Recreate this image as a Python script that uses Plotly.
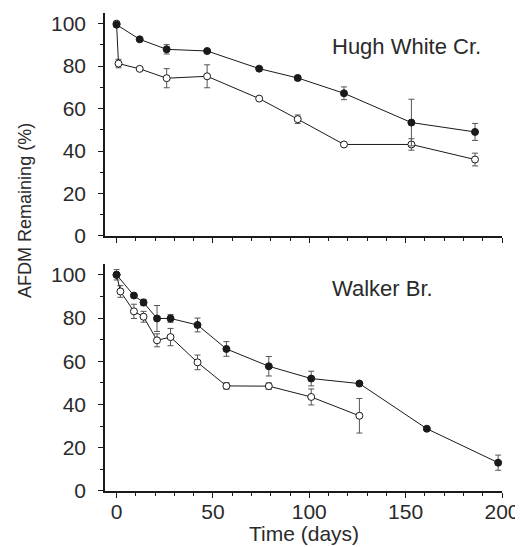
import plotly.graph_objects as go

# Hugh White Cr.
hw_days_filled = [0, 12, 26, 47, 74, 94, 118, 153, 186]
hw_filled = [99.5, 92.6, 87.9, 87.1, 78.8, 74.4, 67.2, 53.4, 49.0]
hw_filled_err = [1.0, 0, 2.2, 0, 0, 1.2, 3.0, 11.0, 4.0]

hw_days_open = [0, 1, 12, 26, 47, 74, 94, 118, 153, 186]
hw_open = [100, 81.2, 78.7, 74.3, 75.2, 64.7, 55.0, 43.1, 43.1, 36.0]
hw_open_err = [0, 2.0, 0, 4.5, 5.4, 0, 2.0, 0, 2.7, 3.0]

# Walker Br.
wb_days_filled = [0, 9, 14, 21, 28, 42, 57, 79, 101, 126, 161, 198]
wb_filled = [100, 90.4, 87.2, 79.8, 79.8, 76.8, 65.7, 57.7, 52.0, 49.7, 28.8, 13.1]
wb_filled_err = [2.4, 0, 1.5, 6.0, 1.8, 3.2, 3.4, 4.5, 3.4, 0, 0, 3.5]

wb_days_open = [0, 2, 9, 14, 21, 28, 42, 57, 79, 101, 126]
wb_open = [100, 92.3, 83.1, 80.6, 69.7, 71.2, 59.5, 48.6, 48.5, 43.5, 34.8]
wb_open_err = [0, 2.7, 3.3, 2.5, 3.0, 4.0, 3.4, 1.5, 1.5, 3.7, 8.0]

panel_labels = ["Hugh White Cr.", "Walker Br."]
y_title = "AFDM Remaining (%)"
x_title = "Time (days)"
x_tickvals = [0, 50, 100, 150, 200]
y_tickvals = [0, 20, 40, 60, 80, 100]

FONT = "Liberation Sans, Arial, sans-serif"
INK = "#1a1a1a"
TXT = "#2a2a2a"
ERRC = "#555555"

fig = go.Figure()


def add_series(x, y, err, filled, xa, ya):
    fig.add_trace(go.Scatter(
        x=x, y=y, mode="lines+markers", xaxis=xa, yaxis=ya,
        line=dict(color=INK, width=1),
        marker=dict(size=7, symbol="circle",
                    color=INK if filled else "white",
                    line=dict(color=INK, width=1)),
        error_y=dict(type="data", array=err, visible=True,
                     color=ERRC, thickness=1, width=3),
        showlegend=False, cliponaxis=False,
    ))


add_series(hw_days_open, hw_open, hw_open_err, False, "x", "y")
add_series(hw_days_filled, hw_filled, hw_filled_err, True, "x", "y")
add_series(wb_days_open, wb_open, wb_open_err, False, "x2", "y2")
add_series(wb_days_filled, wb_filled, wb_filled_err, True, "x2", "y2")

xcommon = dict(range=[-6, 200], showgrid=False, zeroline=False, automargin=False,
               showline=True, linecolor=INK, linewidth=1.5,
               ticks="outside", ticklen=5, tickwidth=1, tickcolor=INK,
               tickvals=x_tickvals,
               minor=dict(dtick=10, tick0=0, ticks="outside", ticklen=3,
                          tickcolor=INK, tickwidth=1),
               tickfont=dict(family=FONT, size=21, color=TXT),
               ticklabelstandoff=-4)
ycommon = dict(range=[0, 105], showgrid=False, zeroline=False, automargin=False,
               showline=True, linecolor=INK, linewidth=1.5,
               ticks="outside", ticklen=5, tickwidth=1, tickcolor=INK,
               tickvals=y_tickvals,
               minor=dict(dtick=10, tick0=0, ticks="outside", ticklen=3,
                          tickcolor=INK, tickwidth=1),
               tickfont=dict(family=FONT, size=21, color=TXT),
               ticklabelstandoff=8)

# page body has an 8px margin; size the figure so it fills the window exactly
fig.update_layout(
    width=515, height=539,
    margin=dict(l=97, r=21, t=5, b=56),
    plot_bgcolor="white", paper_bgcolor="white",
    xaxis=dict(xcommon, anchor="y", showticklabels=False),
    yaxis=dict(ycommon, domain=[0.5335, 1.0], anchor="x"),
    xaxis2=dict(xcommon, anchor="y2"),
    yaxis2=dict(ycommon, domain=[0.0, 0.4749], anchor="x2"),
)

fig.add_annotation(x=110.5, y=89.3, xref="x", yref="y", text=panel_labels[0],
                   showarrow=False, xanchor="left", yanchor="middle",
                   font=dict(family=FONT, size=22, color=TXT))
fig.add_annotation(x=110.5, y=93.7, xref="x2", yref="y2", text=panel_labels[1],
                   showarrow=False, xanchor="left", yanchor="middle",
                   font=dict(family=FONT, size=22, color=TXT))
fig.add_annotation(x=-0.2015, y=0.586, xref="paper", yref="paper", text=y_title,
                   showarrow=False, textangle=-90, xanchor="center", yanchor="middle",
                   font=dict(family=FONT, size=18, color=TXT))
fig.add_annotation(x=0.501, y=-0.088, xref="paper", yref="paper", text=x_title,
                   showarrow=False, xanchor="center", yanchor="middle",
                   font=dict(family=FONT, size=21, color=TXT))

fig.write_html("out.html")
